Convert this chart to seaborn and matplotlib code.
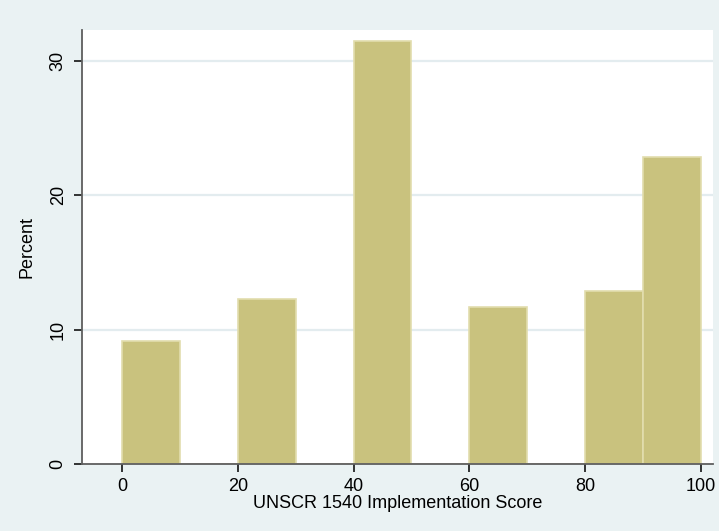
import numpy as np
import pandas as pd
import matplotlib
matplotlib.use("Agg")
import matplotlib.pyplot as plt
import seaborn as sns

# Share of countries (percent) in each 10-point score bin; empty bins are omitted
bin_start = [0, 20, 40, 60, 80, 90]
percent = [9.16, 12.25, 31.45, 11.65, 12.83, 22.79]
bin_edges = list(range(0, 101, 10))
x_ticks = [0, 20, 40, 60, 80, 100]
y_ticks = [0, 10, 20, 30]

df = pd.DataFrame({"score": [b + 5 for b in bin_start], "pct": percent})

sns.set_theme(style="white")
plt.rcParams["font.family"] = ["Liberation Sans", "DejaVu Sans"]

BG = "#EAF2F3"
BAR = "#C9C27E"
EDGE = "#E2DDAE"
AXIS = "#5E5E5E"

fig = plt.figure(figsize=(7.19, 5.31), dpi=100, facecolor=BG)
W, H = 719, 531
ax = fig.add_axes([82 / W, (H - 464) / H, (713 - 82) / W, (464 - 30) / H])
ax.set_facecolor("white")

for y in y_ticks[1:]:
    ax.axhline(y, color="#E3ECEF", lw=1.6, zorder=0)

sns.histplot(data=df, x="score", weights="pct", bins=bin_edges, stat="count",
             color=BAR, edgecolor=EDGE, linewidth=1.2, alpha=1, ax=ax, zorder=2)

ax.set_xlim(-6.9, 102.1)
ax.set_ylim(0, 32.27)
ax.set_xticks(x_ticks)
ax.set_yticks(y_ticks)
ax.set_xticklabels([str(t) for t in x_ticks])
ax.set_yticklabels([str(t) for t in y_ticks], rotation=90, va="center")

for s in ["top", "right"]:
    ax.spines[s].set_visible(False)
for s in ["left", "bottom"]:
    ax.spines[s].set_color(AXIS)
    ax.spines[s].set_linewidth(1.3)
    ax.spines[s].set_zorder(3)

ax.tick_params(axis="both", which="major", length=6, width=1.1, color="black",
               labelsize=13, labelcolor="black", left=True, bottom=True)
ax.tick_params(axis="x", pad=4)
ax.tick_params(axis="y", pad=5)

ax.set_xlabel("UNSCR 1540 Implementation Score", fontsize=13, labelpad=0, color="black")
ax.set_ylabel("Percent", fontsize=13, labelpad=10, color="black")

fig.savefig("out.png", dpi=100, facecolor=BG)
